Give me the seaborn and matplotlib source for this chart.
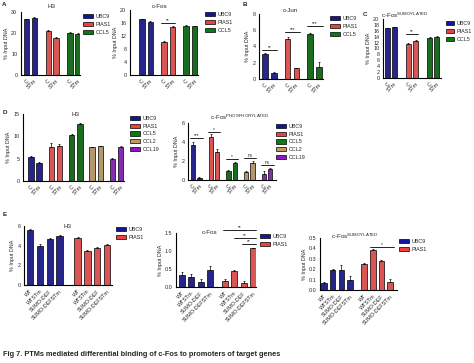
import numpy as np
import pandas as pd
import matplotlib
matplotlib.use("Agg")
import matplotlib.pyplot as plt
import matplotlib.patches as mpatches
import seaborn as sns

# ---------------- data ----------------
cond_cs = ["C", "STm"]
cond_e = ["WT", "WTSTm", "SUMO-DEF", "SUMO-DEFSTm"]

genes3 = ["UBC9", "PIAS1", "CCL5"]
genes5 = ["UBC9", "PIAS1", "CCL5", "CCL2", "CCL19"]
genes2 = ["UBC9", "PIAS1"]

a_h3 = [26.5, 27.2, 21.0, 17.8, 20.0, 19.5]
a_h3_err = [0.4, 0.4, 0.3, 0.3, 0.3, 0.3]
a_fos = [17.1, 16.3, 10.3, 14.7, 15.1, 15.0]
a_fos_err = [0.2, 0.2, 0.3, 0.3, 0.2, 0.2]
b_jun = [3.1, 0.8, 4.9, 1.3, 5.6, 1.5]
b_jun_err = [0.1, 0.08, 0.25, 0.08, 0.12, 0.6]
c_fos_sumo = [16.8, 17.2, 11.5, 12.6, 13.7, 13.9]
c_fos_sumo_err = [0.2, 0.2, 0.2, 0.2, 0.2, 0.2]
d_h3 = [5.3, 4.0, 7.7, 7.9, 10.2, 12.8, 7.6, 7.8, 5.0, 7.7]
d_h3_err = [0.3, 0.2, 0.8, 0.3, 0.3, 0.1, 0.1, 0.1, 0.2, 0.2]
d_fos_p = [3.7, 0.25, 4.5, 3.0, 0.95, 1.8, 0.85, 1.8, 0.65, 1.15]
d_fos_p_err = [0.3, 0.1, 0.3, 0.3, 0.1, 0.05, 0.15, 0.25, 0.25, 0.12]
e_h3 = [5.6, 4.0, 4.7, 5.0, 4.75, 3.5, 3.8, 4.1]
e_h3_err = [0.1, 0.12, 0.08, 0.05, 0.1, 0.05, 0.05, 0.1]
e_fos = [0.33, 0.29, 0.13, 0.47, 0.18, 0.45, 0.12, 1.07]
e_fos_err = [0.08, 0.06, 0.1, 0.1, 0.05, 0.02, 0.04, 0.02]
e_fos_sumo = [0.065, 0.19, 0.19, 0.095, 0.25, 0.38, 0.28, 0.075]
e_fos_sumo_err = [0.01, 0.015, 0.05, 0.04, 0.01, 0.01, 0.01, 0.035]

palette = {"UBC9": "#14149c", "PIAS1": "#f0403e", "CCL5": "#0c7a12",
           "CCL2": "#c29b5c", "CCL19": "#8c16c8"}

# ---------------- figure ----------------
W, H = 474, 363
sns.set_style("white")
plt.rcParams["font.family"] = ["Liberation Sans", "DejaVu Sans"]
plt.rcParams["mathtext.default"] = "regular"
fig = plt.figure(figsize=(W / 100, H / 100), dpi=100)

FS = 3.9


def fx(x):
    return x / W


def fy(y):
    return 1 - y / H


def px_axes(l, t, r, b):
    return fig.add_axes([fx(l), fy(b), fx(r) - fx(l), (b - t) / H])


def positions(ngroups, nper, G):
    return [g * G + i for g in range(ngroups) for i in range(nper)]


def panel(rect, genes, conds, vals, errs, G, xlim, ylim, yticks, ytl=None,
          width=0.65):
    ax = px_axes(*rect)
    pos = positions(len(genes), len(conds), G)
    hue = [g for g in genes for _ in conds]
    df = pd.DataFrame({"pos": pos, "val": vals, "gene": hue})
    sns.barplot(data=df, x="pos", y="val", hue="gene", palette=palette,
                native_scale=True, dodge=False, width=width,
                edgecolor="black", linewidth=0.5, errorbar=None,
                legend=False, ax=ax)
    ax.errorbar(pos, vals, yerr=[np.zeros(len(errs)), errs], fmt="none",
                ecolor="black", elinewidth=0.5, capsize=1.0, capthick=0.5)
    ax.set_xlim(*xlim)
    ax.set_ylim(*ylim)
    ax.set_yticks(yticks)
    if ytl is not None:
        ax.set_yticklabels(ytl)
    ax.set_xticks(pos)
    ax.set_xticklabels(conds * len(genes), rotation=45, ha="right",
                       rotation_mode="anchor")
    ax.set_xlabel("")
    ax.set_ylabel("% Input DNA", fontsize=FS, labelpad=1.5)
    ax.tick_params(axis="both", labelsize=FS, length=1.6, width=0.6, pad=1)
    for s in ["top", "right"]:
        ax.spines[s].set_visible(False)
    for s in ["left", "bottom"]:
        ax.spines[s].set_linewidth(0.8)
        ax.spines[s].set_color("black")
    return ax, pos


def legend(genes, x, y, spacing=0.55, hl=1.8):
    handles = [mpatches.Patch(facecolor=palette[g], edgecolor="black",
                              linewidth=0.5, label=g) for g in genes]
    leg = fig.legend(handles=handles, loc="upper left",
                     bbox_to_anchor=(fx(x), fy(y)), frameon=False,
                     fontsize=FS, handlelength=hl, handleheight=0.8,
                     handletextpad=0.5, labelspacing=spacing,
                     borderaxespad=0, borderpad=0)
    return leg


def bracket(ax, x1, x2, y, txt, clip=False):
    ax.plot([x1, x2], [y, y], color="black", lw=0.6, clip_on=clip)
    ax.text((x1 + x2) / 2, y, txt, ha="center", va="bottom", fontsize=FS - 0.5)


def title(x, y, main, sup=None):
    s = main if sup is None else main + r"$^{" + sup + r"}$"
    fig.text(fx(x), fy(y), s, ha="center", va="center", fontsize=FS + 0.6)


# ---- Panel A ----
ax, pos = panel((21, 12, 80, 75), genes3, cond_cs, a_h3, a_h3_err, 2.75,
                (-0.65, 6.75), (0, 30), [0, 10, 20, 30])
title(51, 6, "H3")
legend(genes3, 83, 14)

ax, pos = panel((130, 10, 198, 75), genes3, cond_cs, a_fos, a_fos_err, 2.6,
                (-1.4, 6.6), (0, 20), [0, 4, 8, 12, 16, 20])
bracket(ax, pos[2] - 0.3, pos[3] + 0.3, 16.0, "**")
title(160, 6, "c-Fos")
legend(genes3, 205, 12)

# ---- Panel B ----
ax, pos = panel((259, 14, 323, 79), genes3, cond_cs, b_jun, b_jun_err, 2.55,
                (-0.67, 6.55), (0, 8), [0, 2, 4, 6, 8])
bracket(ax, pos[0] - 0.3, pos[1] + 0.4, 3.6, "**")
bracket(ax, pos[2] - 0.3, pos[3] + 0.4, 5.8, "***")
bracket(ax, pos[4] - 0.3, pos[5] + 0.4, 6.5, "***")
title(290, 11, "c-Jun")
legend(genes3, 330, 16)

# ---- Panel C ----
ax, pos = panel((383, 19, 441, 78), genes3, cond_cs, c_fos_sumo, c_fos_sumo_err, 3.0,
                (-0.6, 7.6), (0, 20), list(range(0, 21, 2)))
bracket(ax, pos[2] - 0.4, pos[3] + 0.4, 14.9, "**")
title(405, 15, "c-Fos", "SUMOYLATED")
legend(genes3, 446, 21, hl=1.5)

# ---- Panel D ----
ax, pos = panel((23, 114, 124, 181), genes5, cond_cs, d_h3, d_h3_err, 2.47,
                (-0.96, 11.3), (0, 15), [0, 5, 10, 15])
title(76, 114, "H3")
legend(genes5, 130, 116, spacing=0.5)

ax, pos = panel((188, 123, 276, 180), genes5, cond_cs, d_fos_p, d_fos_p_err, 2.73,
                (-0.77, 12.8), (0, 6), [0, 2, 4, 6])
bracket(ax, pos[0] - 0.4, pos[1] + 0.5, 4.4, "***")
bracket(ax, pos[2] - 0.4, pos[3] + 0.5, 5.05, "*")
bracket(ax, pos[4] - 0.4, pos[5] + 0.5, 2.2, "*")
bracket(ax, pos[6] - 0.4, pos[7] + 0.5, 2.3, "ns")
bracket(ax, pos[8] - 0.4, pos[9] + 0.5, 1.6, "ns")
title(240, 117, "c-Fos", "PHOSPHORYLATED")
legend(genes5, 276, 124, spacing=0.5)

# ---- Panel E ----
ax, pos = panel((24, 226, 112, 285), genes2, cond_e, e_h3, e_h3_err, 4.85,
                (-0.62, 8.35), (0, 6), [0, 2, 4, 6])
title(68, 226, "H3")
legend(genes2, 116, 227)

ax, pos = panel((176, 233, 256, 287), genes2, cond_e, e_fos, e_fos_err, 4.67,
                (-0.65, 8.0), (0, 1.5), [0, 0.5, 1.0, 1.5],
                ["0.0", "0.5", "1.0", "1.5"])
bracket(ax, pos[4] - 0.2, pos[7] + 0.3, 1.58, "**")
bracket(ax, pos[5] - 0.1, pos[7] + 0.3, 1.36, "**")
bracket(ax, pos[6] - 0.2, pos[7] + 0.3, 1.19, "**")
title(210, 232, "c-Fos")
legend(genes2, 260, 234)

ax, pos = panel((320, 238, 397, 290), genes2, cond_e, e_fos_sumo, e_fos_sumo_err, 4.65,
                (-0.47, 8.45), (0, 0.5), [0, 0.1, 0.2, 0.3, 0.4, 0.5],
                ["0.0", "0.1", "0.2", "0.3", "0.4", "0.5"])
bracket(ax, pos[5] - 0.3, pos[7] + 0.5, 0.41, "*")
title(355, 236, "c-Fos", "SUMOYLATED")
legend(genes2, 399, 239)

# ---- panel letters & caption ----
for letter, x, y in [("A", 2, 5), ("B", 243, 5), ("C", 363, 15),
                     ("D", 3, 113), ("E", 3, 215)]:
    fig.text(fx(x), fy(y), letter, ha="left", va="center", fontsize=4.5,
             fontweight="bold")

fig.text(fx(3), fy(355), "Fig 7. PTMs mediated differential binding of c-Fos to promoters of target genes",
         ha="left", va="center", fontsize=5.3, fontweight="bold")

fig.savefig("out.png", dpi=100)
